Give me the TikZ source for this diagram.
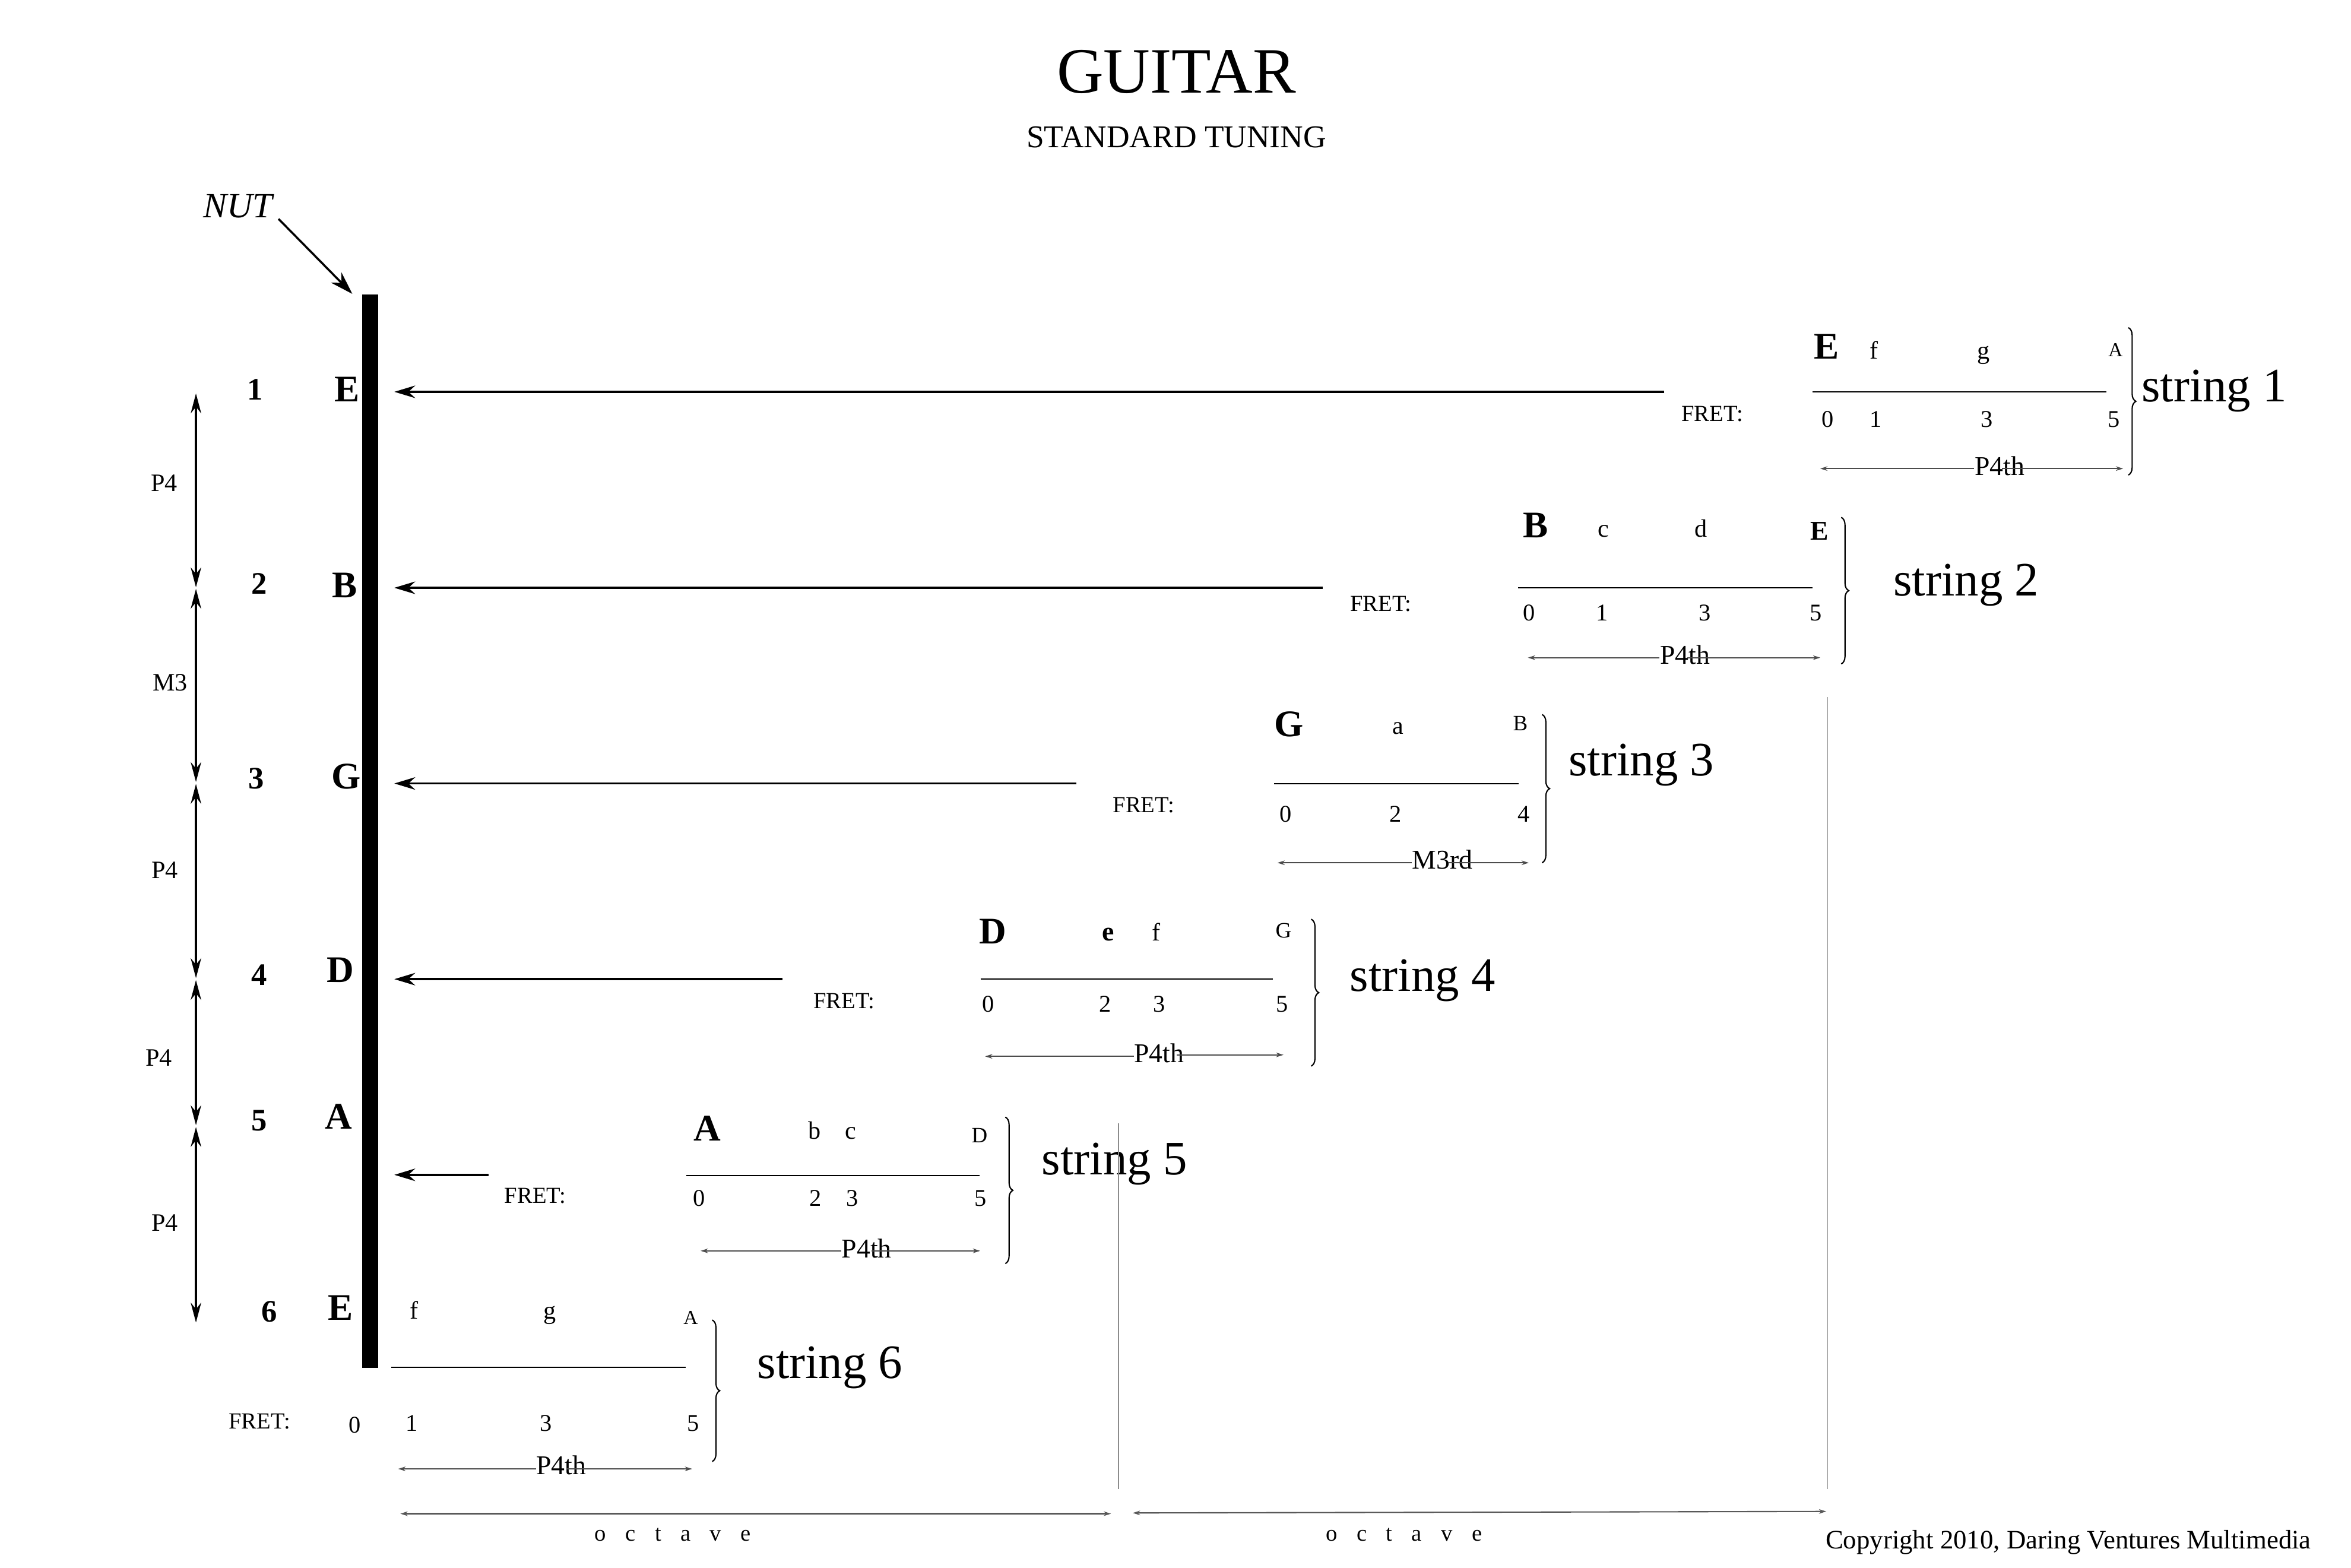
\documentclass[tikz,border=0pt]{standalone}
\usepackage{fontspec}
\setmainfont{Liberation Serif}
\usetikzlibrary{arrows.meta,decorations.pathreplacing,calc}
\newcommand{\octword}{o\hspace{9.2pt}c\hspace{9.2pt}t\hspace{9.2pt}a\hspace{9.2pt}v\hspace{9.2pt}e}
\tikzset{ivltip/.tip={Stealth[length=3.5pt,width=2.2pt]}}
\begin{document}
\begin{tikzpicture}[x=0.025255cm,y=-0.025255cm,
  tb/.style={inner sep=0pt, anchor=base},
  bignote/.style={tb, font=\fontsize{18}{20}\selectfont\bfseries},
  note/.style={tb, font=\fontsize{12}{14}\selectfont},
  endnote/.style={tb, font=\fontsize{10.5}{12}\selectfont},
  fretno/.style={tb, font=\fontsize{11.5}{13}\selectfont},
  fretlbl/.style={tb, font=\fontsize{11}{13}\selectfont},
  intlbl/.style={tb, font=\fontsize{13}{15}\selectfont},
  strlbl/.style={inner sep=0pt, anchor=base west, font=\fontsize{23}{26}\selectfont},
  strnum/.style={tb, font=\fontsize{15}{17}\selectfont\bfseries},
  sidelbl/.style={tb, font=\fontsize{12}{14}\selectfont},
  fretline/.style={line width=0.5pt},
  ivl/.style={black!70, line width=0.5pt},
  nutarrow/.style={line width=1pt, -{Stealth[length=10pt,width=6pt]}},
  sidearrow/.style={line width=1pt, {Stealth[length=9.5pt,width=5pt]}-{Stealth[length=9.5pt,width=5pt]}},
  bracestyle/.style={decorate, decoration={brace, amplitude=3.6pt}, line width=0.6pt},
  divider/.style={black!45, line width=0.45pt},
  octarrow/.style={black!65, line width=0.6pt, {Stealth[length=3.5pt,width=2.2pt]}-{Stealth[length=3.5pt,width=2.2pt]}}
]
\useasboundingbox (0,0) rectangle (1568,1045.33);

% title
\node[tb, font=\fontsize{31}{34}\selectfont] (title) at (784.6,62) {GUITAR};
\node[tb, font=\fontsize{15.2}{17}\selectfont] (subtitle) at (784.6,98.3) {STANDARD TUNING};

% nut
\node[fill=black, inner sep=0pt, minimum width=0.2702cm, minimum height=18.083cm, anchor=north west] (nut) at (241.3,196) {};
\node[tb, font=\fontsize{17}{19}\selectfont\itshape] (nutlbl) at (158.5,145) {NUT};
\coordinate (nuttip) at (235,196);
\draw[line width=1pt, -{Stealth[length=11pt,width=7pt]}] ([shift={(4,1)}]nutlbl.base east) -- (nuttip);

% left numbers and open notes
\node[strnum] (n1) at (170,266.8) {1};
\node[strnum] (n2) at (172.9,396.1) {2};
\node[strnum] (n3) at (171,526) {3};
\node[strnum] (n4) at (173,657) {4};
\node[strnum] (n5) at (173,754) {5};
\node[strnum] (n6) at (179.5,881.7) {6};
\node[bignote] (o1) at (231.3,267.7) {E};
\node[bignote] (o2) at (229.8,398.7) {B};
\node[bignote] (o3) at (231,526) {G};
\node[bignote] (o4) at (227,655) {D};
\node[bignote] (o5) at (226,753) {A};
\node[bignote] (o6) at (227.2,880.3) {E};

% left interval arrows
\coordinate (v0) at (130.7,262.4);
\coordinate (v1a) at (130.7,391.7);
\coordinate (v1b) at (130.7,392.7);
\coordinate (v2a) at (130.7,521.5);
\coordinate (v2b) at (130.7,522.8);
\coordinate (v3a) at (130.7,652.3);
\coordinate (v3b) at (130.7,653.6);
\coordinate (v4a) at (130.7,750.4);
\coordinate (v4b) at (130.7,751.6);
\coordinate (v5) at (130.7,882);
\draw[sidearrow] (v0) -- (v1a);
\draw[sidearrow] (v1b) -- (v2a);
\draw[sidearrow] (v2b) -- (v3a);
\draw[sidearrow] (v3b) -- (v4a);
\draw[sidearrow] (v4b) -- (v5);
\node[sidelbl] (i1) at (109.5,327.6) {P4};
\node[sidelbl] (i2) at (113.4,460.5) {M3};
\node[sidelbl] (i3) at (110,586) {P4};
\node[sidelbl] (i4) at (106,711) {P4};
\node[sidelbl] (i5) at (110,821) {P4};

% arrows to the nut
\coordinate (s1) at (1110,261.3); \coordinate (e1) at (263,261.3);
\coordinate (s2) at (882,392);    \coordinate (e2) at (263,392);
\coordinate (s3) at (718,522.5);  \coordinate (e3) at (263,522.5);
\coordinate (s4) at (522,653);    \coordinate (e4) at (263,653);
\coordinate (s5) at (326,783.5);  \coordinate (e5) at (263,783.5);
\draw[nutarrow] (s1) -- (e1);
\draw[nutarrow] (s2) -- (e2);
\draw[nutarrow] (s3) -- (e3);
\draw[nutarrow] (s4) -- (e4);
\draw[nutarrow] (s5) -- (e5);

% ---------- string 1 ----------
\node[bignote] (a1) at (1218,239.5) {E};
\node[note] (b1) at (1250,239.5) {f};
\node[note] (c1) at (1323,239.5) {g};
\node[endnote, font=\fontsize{9.5}{11}\selectfont] (d1) at (1411,237.6) {A};
\coordinate (l1a) at (1209,261.3); \coordinate (l1b) at (1405,261.3);
\draw[fretline] (l1a) -- (l1b);
\node[fretlbl] (f1) at (1142,281) {FRET:};
\node[fretno] (x10) at (1219,284.8) {0};
\node[fretno] (x11) at (1251,284.8) {1};
\node[fretno] (x13) at (1325,284.8) {3};
\node[fretno] (x15) at (1410,284.8) {5};
\coordinate (p1a) at (1214,312.5); \coordinate (p1b) at (1416,312.5);
\node[intlbl] (q1) at (1333.6,316.8) {P4th};
\coordinate (m1) at ($(q1.west)!0.55!(q1.east)$);
\draw[ivl, ivltip-] (p1a) -- (q1.west |- p1a);
\draw[ivl, -ivltip] (m1 |- p1a) -- (p1b);
\coordinate (r1a) at (1419.5,218.5); \coordinate (r1b) at (1419.5,316.8);
\draw[bracestyle] (r1a) -- (r1b);
\node[strlbl] (t1) at (1428,267.7) {string 1};

% ---------- string 2 ----------
\node[bignote] (a2) at (1024,358.4) {B};
\node[note] (b2) at (1069.5,358.3) {c};
\node[note] (c2) at (1134.4,358.3) {d};
\node[tb, font=\fontsize{13}{15}\selectfont\bfseries] (d2) at (1213.6,360.3) {E};
\coordinate (l2a) at (1012.6,392); \coordinate (l2b) at (1208.9,392);
\draw[fretline] (l2a) -- (l2b);
\node[fretlbl] (f2) at (921,407.5) {FRET:};
\node[fretno] (x20) at (1019.7,413.8) {0};
\node[fretno] (x21) at (1068.7,413.8) {1};
\node[fretno] (x23) at (1137.1,413.8) {3};
\node[fretno] (x25) at (1211,413.8) {5};
\coordinate (p2a) at (1019,438.6); \coordinate (p2b) at (1214,438.6);
\node[intlbl] (q2) at (1123.7,443) {P4th};
\coordinate (m2) at ($(q2.west)!0.55!(q2.east)$);
\draw[ivl, ivltip-] (p2a) -- (q2.west |- p2a);
\draw[ivl, -ivltip] (m2 |- p2a) -- (p2b);
\coordinate (r2a) at (1228,345); \coordinate (r2b) at (1228,442.8);
\draw[bracestyle] (r2a) -- (r2b);
\node[strlbl] (t2) at (1262.6,397.3) {string 2};

% ---------- string 3 ----------
\node[bignote] (a3) at (859.5,491) {G};
\node[note] (b3) at (932.6,489.4) {a};
\node[endnote] (d3) at (1014,487.4) {B};
\coordinate (l3a) at (849.8,522.7); \coordinate (l3b) at (1012.7,522.7);
\draw[fretline] (l3a) -- (l3b);
\node[fretlbl] (f3) at (762.7,541.8) {FRET:};
\node[fretno] (x30) at (857.5,548) {0};
\node[fretno] (x32) at (930.8,548) {2};
\node[fretno] (x34) at (1016.4,548) {4};
\coordinate (p3a) at (852,575.4); \coordinate (p3b) at (1019.6,575.4);
\node[intlbl] (q3) at (962,579.4) {M3rd};
\coordinate (m3) at ($(q3.west)!0.6!(q3.east)$);
\draw[ivl, ivltip-] (p3a) -- (q3.west |- p3a);
\draw[ivl, -ivltip] (m3 |- p3a) -- (p3b);
\coordinate (r3a) at (1028.5,476.5); \coordinate (r3b) at (1028.5,575.4);
\draw[bracestyle] (r3a) -- (r3b);
\node[strlbl] (t3) at (1046,517.4) {string 3};

% ---------- string 4 ----------
\node[bignote] (a4) at (662,629.5) {D};
\node[tb, font=\fontsize{13}{15}\selectfont\bfseries] (b4) at (739,627.5) {e};
\node[note] (c4) at (771,627.5) {f};
\node[endnote] (d4) at (856,625.5) {G};
\coordinate (l4a) at (654,653); \coordinate (l4b) at (849,653);
\draw[fretline] (l4a) -- (l4b);
\node[fretlbl] (f4) at (563,672.5) {FRET:};
\node[fretno] (x40) at (659,675) {0};
\node[fretno] (x42) at (737,675) {2};
\node[fretno] (x43) at (773,675) {3};
\node[fretno] (x45) at (855,675) {5};
\coordinate (p4a) at (657,704.5); \coordinate (p4b) at (856,703.5);
\node[intlbl] (q4) at (773,708.5) {P4th};
\coordinate (m4) at ($(q4.west)!0.85!(q4.east)$);
\draw[ivl, ivltip-] (p4a) -- (q4.west |- p4a);
\draw[ivl, -ivltip] (m4 |- p4b) -- (p4b);
\coordinate (r4a) at (874.5,613); \coordinate (r4b) at (874.5,711);
\draw[bracestyle] (r4a) -- (r4b);
\node[strlbl] (t4) at (900,661) {string 4};

% ---------- string 5 ----------
\node[bignote] (a5) at (471.7,761) {A};
\node[note] (b5) at (543.3,759.5) {b};
\node[note] (c5) at (567.4,759.5) {c};
\node[endnote] (d5) at (653.3,762.2) {D};
\coordinate (l5a) at (457.6,784); \coordinate (l5b) at (653.3,784);
\draw[fretline] (l5a) -- (l5b);
\node[fretlbl] (f5) at (357,802.5) {FRET:};
\node[fretno] (x50) at (466.2,804.4) {0};
\node[fretno] (x52) at (544,804.4) {2};
\node[fretno] (x53) at (568.5,804.4) {3};
\node[fretno] (x55) at (654.1,804.4) {5};
\coordinate (p5a) at (467.3,834.2); \coordinate (p5b) at (653.7,834.2);
\node[intlbl] (q5) at (578,838.7) {P4th};
\coordinate (m5) at ($(q5.west)!0.6!(q5.east)$);
\draw[ivl, ivltip-] (p5a) -- (q5.west |- p5a);
\draw[ivl, -ivltip] (m5 |- p5a) -- (p5b);
\coordinate (r5a) at (670.5,745); \coordinate (r5b) at (670.5,842.7);
\draw[bracestyle] (r5a) -- (r5b);
\node[strlbl] (t5) at (694.5,783.3) {string 5};

% ---------- string 6 ----------
\node[note] (b6) at (276.1,879.7) {f};
\node[note] (c6) at (366.5,879.7) {g};
\node[endnote, font=\fontsize{9.5}{11}\selectfont] (d6) at (460.7,883.3) {A};
\coordinate (l6a) at (261,912); \coordinate (l6b) at (457.3,912);
\draw[fretline] (l6a) -- (l6b);
\node[fretlbl] (f6) at (173.1,953) {FRET:};
\node[fretno] (x60) at (236.8,955.6) {0};
\node[fretno] (x61) at (274.6,954.3) {1};
\node[fretno] (x63) at (364,954.3) {3};
\node[fretno] (x65) at (462.5,954.3) {5};
\coordinate (p6a) at (265.6,979.6); \coordinate (p6b) at (461.6,979.6);
\node[intlbl] (q6) at (374.3,983.5) {P4th};
\coordinate (m6) at ($(q6.west)!0.6!(q6.east)$);
\draw[ivl, ivltip-] (p6a) -- (q6.west |- p6a);
\draw[ivl, -ivltip] (m6 |- p6a) -- (p6b);
\coordinate (r6a) at (475,880.3); \coordinate (r6b) at (475,974.7);
\draw[bracestyle] (r6a) -- (r6b);
\node[strlbl] (t6) at (504.8,919.3) {string 6};

% octave dividers and arrows
\coordinate (dv1a) at (746,749); \coordinate (dv1b) at (746,993);
\coordinate (dv2a) at (1219,465); \coordinate (dv2b) at (1219,993);
\draw[divider] (dv1a) -- (dv1b);
\draw[divider] (dv2a) -- (dv2b);
\coordinate (oa1) at (267,1009.5); \coordinate (ob1) at (741,1009.5);
\coordinate (oa2) at (755.5,1009); \coordinate (ob2) at (1218,1008);
\draw[octarrow] (oa1) -- (ob1);
\draw[octarrow] (oa2) -- (ob2);
\node[tb, font=\fontsize{11}{13}\selectfont] (oct1) at (448.7,1027.5) {\octword};
\node[tb, font=\fontsize{11}{13}\selectfont] (oct2) at (936.4,1027.5) {\octword};

\node[inner sep=0pt, anchor=base west, font=\fontsize{12.75}{14}\selectfont] (copy) at (1217.3,1033) {Copyright 2010, Daring Ventures Multimedia};
\end{tikzpicture}
\end{document}
